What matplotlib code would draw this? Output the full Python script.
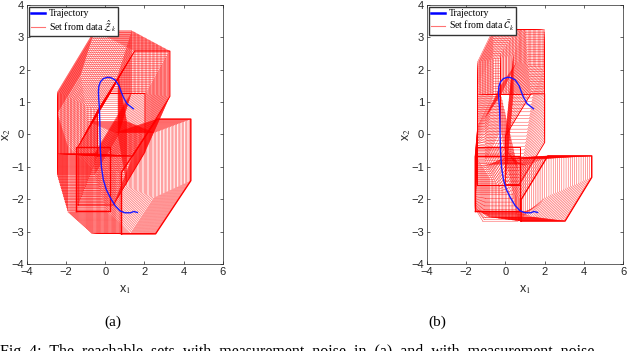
import numpy as np
import matplotlib
matplotlib.use("Agg")
import matplotlib.pyplot as plt

# trajectory (same for both panels)
traj_x = [1.64, 1.45, 1.3, 1.0, 0.75, 0.5, 0.25, 0.05, -0.1, -0.2, -0.25, -0.27, -0.28,
          -0.3, -0.33, -0.35, -0.33, -0.25, -0.1, 0.1, 0.28, 0.5, 0.7, 0.82, 0.92, 1.1, 1.43]
traj_y = [-2.41, -2.38, -2.42, -2.42, -2.36, -2.2, -1.95, -1.7, -1.4, -1.0, -0.5, 0.0, 0.4,
          0.8, 1.05, 1.3, 1.48, 1.62, 1.72, 1.76, 1.75, 1.68, 1.5, 1.3, 1.15, 0.95, 0.79]

# key sets along the run: (cx, cy, gx, gy, dx, dy)
# zonotope with generators (gx,0), (0,gy), (dx,dy)
keys_a = [(2.6, -1.3, 0.87, 0.95, 0.9, 0.82),
          (0.9, -1.5, 1.0, 1.0, 0.6, 0.55),
          (-0.4, -1.0, 1.0, 1.0, 0.5, 0.4),
          (-0.9, 0.3, 0.95, 0.95, 0.6, 0.6),
          (-0.55, 1.3, 0.95, 0.95, 0.95, 0.95),
          (1.45, 0.95, 0.9, 0.7, 0.95, 0.92),
          (0.32, -0.46, 0.9, 0.9, 0.81, 0.82)]
steps_a = [26, 22, 24, 22, 28, 24]
bold_a = [(2.6, -1.3, 0.87, 0.95, 0.9, 0.82),
          (-0.63, -1.37, 0.87, 0.98, 0.0, 0.0)]
thin_a = [(0.32, -0.46, 0.9, 0.9, 0.81, 0.82),
          (1.45, 0.95, 0.9, 0.7, 0.95, 0.92)]

keys_b = [(2.6, -1.67, 1.12, 0.33, 0.68, 0.675),
          (0.6, -1.65, 1.1, 0.6, 0.3, 0.3),
          (-0.45, -1.67, 0.9, 0.81, 0.2, -0.2),
          (-0.83, 0.2, 0.19, 0.55, 0.4, 0.5),
          (-0.83, 1.5, 0.19, 0.5, 0.4, 0.5),
          (-0.42, 2.23, 0.6, 0.5, 0.4, 0.5),
          (1.2, 2.23, 0.5, 0.6, 0.3, 0.4),
          (1.0, -0.15, 0.35, 0.75, 0.65, 0.65)]
steps_b = [22, 14, 24, 16, 11, 22, 26]
bold_b = [(2.6, -1.67, 1.12, 0.33, 0.68, 0.675),
          (-0.4, -1.52, 1.15, 0.85, 0.0, 0.0)]
thin_b = [(-0.355, -0.98, 1.095, 0.59, 0.0, 0.0),
          (1.0, -0.15, 0.35, 0.75, 0.65, 0.65)]


def zono(cx, cy, gx, gy, dx, dy):
    gens = []
    for g in [(gx, 0.0), (0.0, gy), (dx, dy)]:
        if abs(g[0]) + abs(g[1]) < 1e-9:
            continue
        if g[1] < 0 or (g[1] == 0 and g[0] < 0):
            g = (-g[0], -g[1])
        gens.append(g)
    gens.sort(key=lambda g: np.arctan2(g[1], g[0]))
    p = np.array([cx, cy]) - np.sum(gens, axis=0)
    pts = [p.copy()]
    for g in gens + [(-a, -b) for a, b in gens]:
        p = p + 2 * np.array(g)
        pts.append(p.copy())
    return np.array(pts)


def draw_panel(ax, keys, steps, bold, thin, label):
    for i in range(len(keys) - 1):
        k0 = np.array(keys[i])
        k1 = np.array(keys[i + 1])
        for t in np.linspace(0, 1, steps[i], endpoint=False):
            z = zono(*(k0 + (k1 - k0) * t))
            ax.plot(z[:, 0], z[:, 1], color=(1, 0, 0), lw=0.35, alpha=0.75)
    for k in thin:
        z = zono(*k)
        ax.plot(z[:, 0], z[:, 1], color=(1, 0, 0), lw=0.7)
    for k in bold:
        z = zono(*k)
        ax.plot(z[:, 0], z[:, 1], color=(1, 0, 0), lw=1.0)
    ax.plot(traj_x, traj_y, color=(0.1, 0.1, 1.0), lw=1.0)
    h1, = ax.plot([], [], color='blue', lw=1.8)
    h2, = ax.plot([], [], color=(1, 0.45, 0.45), lw=0.8)
    ax.legend([h1, h2], ['Trajectory', label], loc='upper left',
              prop={'family': 'Liberation Serif', 'size': 7}, fancybox=False,
              edgecolor='#333333', framealpha=1, borderpad=0.2, handlelength=1.4,
              handletextpad=0.4, labelspacing=0.05, borderaxespad=0.25)
    ax.set_xlim(-4, 6)
    ax.set_ylim(-4, 4)
    ax.set_xticks(range(-4, 7, 2))
    ax.set_yticks(range(-4, 5, 1))
    ax.tick_params(direction='in', top=True, right=True, labelsize=8,
                   colors='#262626', length=2.5, width=0.5, pad=2)
    for lab in ax.get_xticklabels() + ax.get_yticklabels():
        lab.set_family('Liberation Sans')
    for s in ax.spines.values():
        s.set_linewidth(0.5)
        s.set_color('#262626')
    ax.set_xlabel('x$_1$', fontsize=9, color='#262626', family='Liberation Sans')
    ax.set_ylabel('x$_2$', fontsize=9, color='#262626', family='Liberation Sans')
    ax.xaxis.set_label_coords(0.5, -0.075)
    ax.yaxis.set_label_coords(-0.07, 0.5)


plt.rcParams['mathtext.fontset'] = 'stix'
fig = plt.figure(figsize=(6.4, 3.51), dpi=100)
ax1 = fig.add_axes([0.0422, 0.2479, 0.3058, 0.7387])
ax2 = fig.add_axes([0.667, 0.2479, 0.3067, 0.7387])
draw_panel(ax1, keys_a, steps_a, bold_a, thin_a, r'Set from data $\hat{\mathcal{Z}}_k$')
draw_panel(ax2, keys_b, steps_b, bold_b, thin_b, r'Set from data $\bar{\mathcal{C}}_k$')

fig.text(113 / 640, 1 - 322 / 351, '(a)', family='Liberation Serif', fontsize=11,
         ha='center', va='center')
fig.text(437 / 640, 1 - 322 / 351, '(b)', family='Liberation Serif', fontsize=11,
         ha='center', va='center')
fig.text(0.0, 1 - 352 / 351, 'Fig. 4:  The  reachable  sets  with  measurement  noise  in  (a)  and  with  measurement  noise',
         family='Liberation Serif', fontsize=11.5, ha='left', va='center')

fig.savefig('out.png', dpi=100)
